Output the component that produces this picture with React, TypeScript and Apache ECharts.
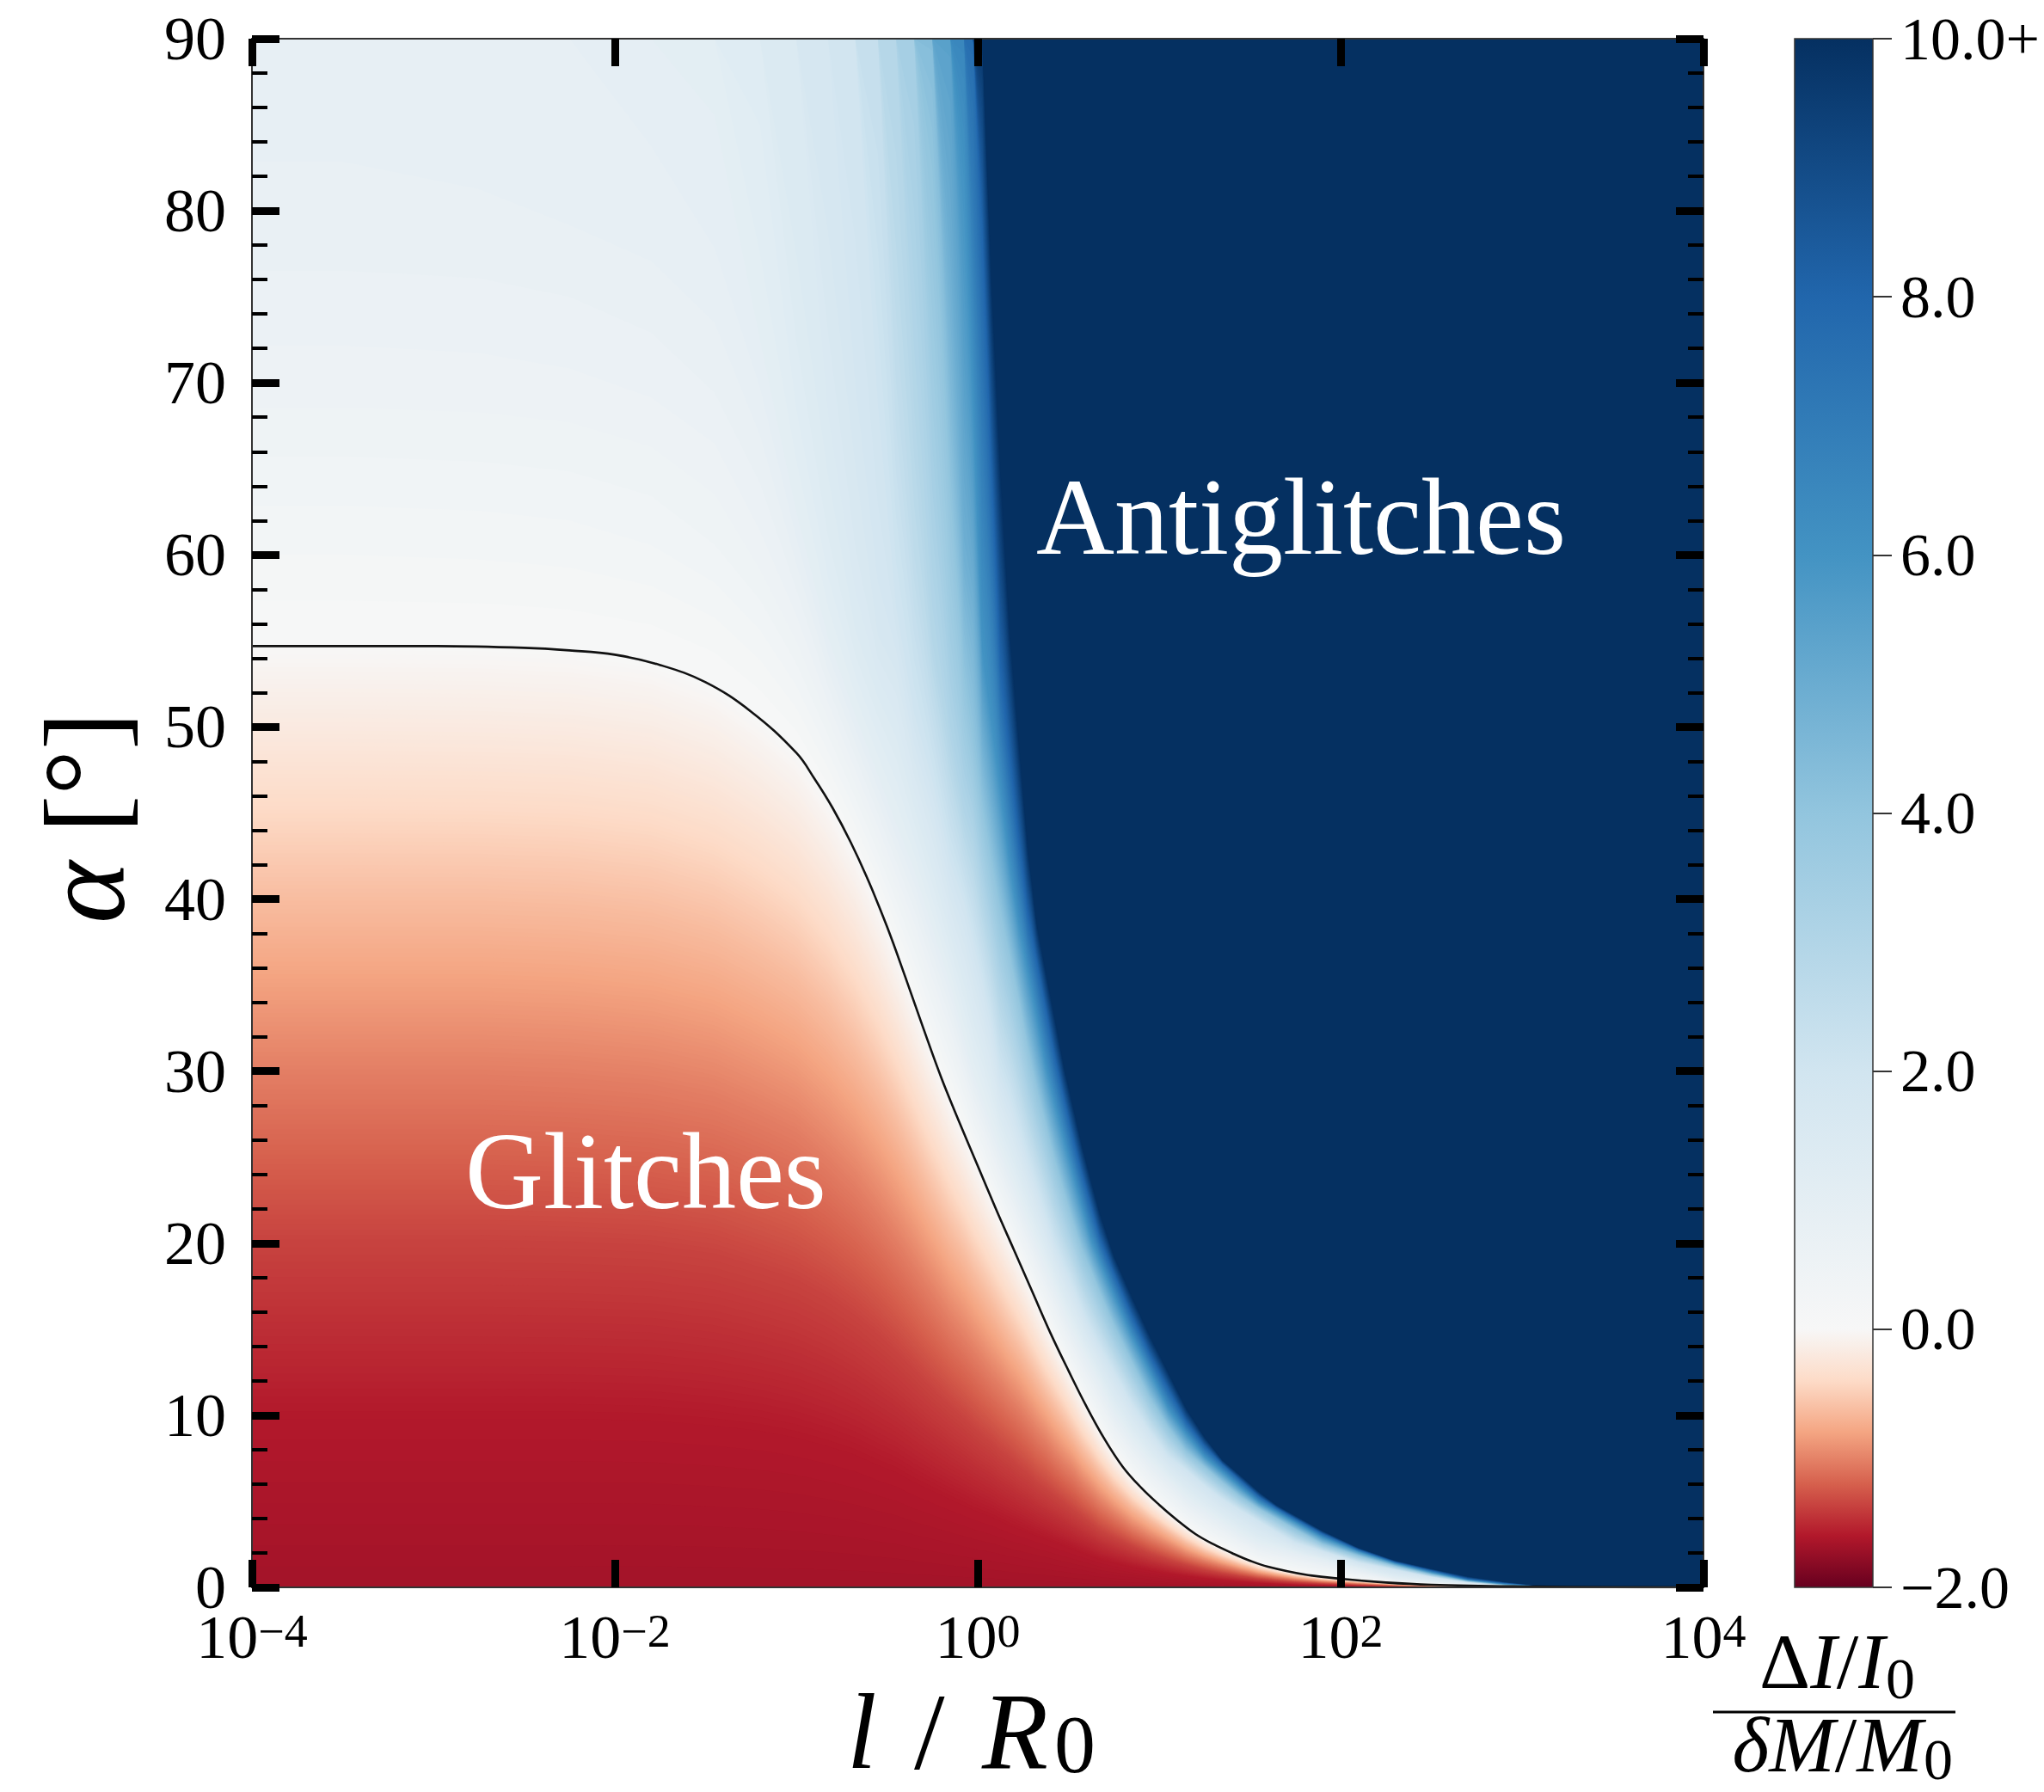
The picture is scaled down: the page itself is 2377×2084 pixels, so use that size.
import React, { useEffect, useRef } from 'react';
import * as echarts from 'echarts';

const FONT = 'Liberation Serif';

// axis ranges / ticks
const X_MIN = -4; // log10(l / R0)
const X_MAX = 4;
const X_STEP = 2;
const ALPHA_MIN = 0;
const ALPHA_MAX = 90;
const ALPHA_STEP = 10;
const CBAR_MIN = -2;
const CBAR_MAX = 10;
const CBAR_STEP = 2;

// RdBu colormap, two-slope normalisation centred at 0
const RDBU = ['#67001f', '#b2182b', '#d6604d', '#f4a582', '#fddbc7', '#f7f7f7', '#d1e5f0', '#92c5de', '#4393c3', '#2166ac', '#053061'];
const VCENTER = 0;
const CBAR_LEVELS = [10, 8, 6, 4, 2, 0, -0.4, -0.8, -1.2, -1.6, -2];

// field, read column by column: x = log10(l/R0) of each column, and for it
// the list of [alpha (deg), (dI/I0)/(dM/M0)] read from bottom to top
const STRIP_X = [-3.5, -2.75, -2.25, -1.8, -1.45, -1.2, -1.0, -0.825, -0.675, -0.55, -0.45, -0.35, -0.25, -0.15, -0.075, -0.025, 0.025, 0.075, 0.125, 0.175, 0.225, 0.275, 0.325, 0.375, 0.425, 0.475, 0.525, 0.575, 0.625, 0.675, 0.75, 0.85, 0.95, 1.05, 1.15, 1.25, 1.35, 1.45, 1.55, 1.65, 1.75, 1.9, 2.1, 2.3, 2.5, 2.7, 2.9, 3.1, 3.6];

const STRIP_PROFILES: number[][][] = [
  [[0,-1.68],[9.8,-1.6],[20.2,-1.36],[30.1,-1.02],[39.9,-0.63],[49.8,-0.2],[54.7,0],[60,0.2],[70,0.55],[80,0.78],[90,0.85]],
  [[0,-1.68],[9.8,-1.6],[20.2,-1.36],[30.1,-1.02],[39.9,-0.63],[49.7,-0.2],[54.65,0],[60,0.21],[70,0.56],[80,0.79],[90,0.87]],
  [[0,-1.68],[9.8,-1.6],[20.1,-1.36],[29.9,-1.02],[39.7,-0.63],[49.5,-0.2],[54.4,0],[60,0.23],[70,0.58],[80,0.82],[90,0.9]],
  [[0,-1.68],[9.7,-1.6],[19.9,-1.36],[29.5,-1.02],[39.2,-0.63],[48.9,-0.2],[53.7,0],[60,0.28],[70,0.63],[80,0.87],[90,0.95]],
  [[0,-1.68],[9.4,-1.6],[19.4,-1.36],[28.8,-1.02],[38.2,-0.63],[47.6,-0.2],[52.3,0],[60,0.38],[70,0.72],[80,0.95],[90,1.04]],
  [[0,-1.68],[9.1,-1.6],[18.6,-1.36],[27.7,-1.02],[36.8,-0.63],[45.9,-0.2],[50.4,0],[60,0.55],[72.5,1],[80,1.15],[90,1.25]],
  [[0,-1.68],[8.7,-1.6],[17.9,-1.36],[26.7,-1.02],[35.4,-0.63],[44.1,-0.2],[48.5,0],[55,0.5],[62.5,1],[70,1.25],[80,1.45],[90,1.5]],
  [[0,-1.68],[8.2,-1.6],[16.9,-1.36],[25.1,-1.02],[33.4,-0.63],[41.6,-0.2],[45.7,0],[50,0.45],[55.2,1],[60,1.27],[70,1.55],[80,1.72],[90,1.8]],
  [[0,-1.68],[7.7,-1.6],[15.8,-1.36],[23.5,-1.02],[31.2,-0.63],[38.9,-0.2],[42.7,0],[50.7,1],[55,1.37],[60,1.59],[70,1.8],[80,1.92],[90,1.98]],
  [[0,-1.68],[7.1,-1.6],[14.7,-1.36],[21.8,-1.02],[29,-0.63],[36.1,-0.2],[39.7,0],[47.2,1],[55,1.69],[60,1.85],[68.75,2],[80,2.25],[90,2.4]],
  [[0,-1.68],[6.7,-1.6],[13.7,-1.36],[20.3,-1.02],[27,-0.63],[33.6,-0.2],[36.95,0],[44.4,1],[57,2],[70,2.5],[80,2.75],[90,2.9]],
  [[0,-1.68],[6.1,-1.6],[12.6,-1.36],[18.7,-1.02],[24.8,-0.63],[30.9,-0.2],[34,0],[41.7,1],[50.8,2],[60,2.6],[70,2.95],[80,3.2],[90,3.4]],
  [[0,-1.68],[5.6,-1.6],[11.5,-1.36],[17.1,-1.02],[22.6,-0.63],[28.2,-0.2],[31,0],[38.3,1],[46.9,2],[55,2.9],[60,3.15],[70,3.55],[82.5,4],[90,4.33]],
  [[0,-1.68],[5.1,-1.6],[10.5,-1.36],[15.5,-1.02],[20.6,-0.63],[25.7,-0.2],[28.25,0],[35,1],[42.1,2],[50,3.1],[55,3.5],[63.3,4],[70,4.5],[80,5.06],[90,5.44]],
  [[0,-1.68],[4.75,-1.6],[9.8,-1.36],[14.5,-1.02],[19.3,-0.63],[24,-0.2],[26.4,0],[31.9,1],[39.8,2],[45,3],[52.9,4],[60,4.85],[70,5.44],[81.7,6],[90,6.56]],
  [[0,-1.68],[4.5,-1.6],[9.3,-1.36],[13.8,-1.02],[18.3,-0.63],[22.8,-0.2],[25.1,0],[29.9,1],[37.5,2],[49.3,4],[68.3,6],[80,7],[90,7.67]],
  [[0,-1.68],[4.3,-1.6],[8.8,-1.36],[13.1,-1.02],[17.4,-0.63],[21.7,-0.2],[23.9,0],[28.4,1],[35.2,2],[45.3,4],[54.6,6],[78.75,8],[90,9.75]],
  [[0,-1.68],[4.1,-1.6],[8.4,-1.36],[12.4,-1.02],[16.5,-0.63],[20.6,-0.2],[22.6,0],[26.9,1],[32.75,2],[42.2,4],[50.4,6],[65,8],[76.25,10],[90,12]],
  [[0,-1.68],[3.85,-1.6],[7.9,-1.36],[11.8,-1.02],[15.6,-0.63],[19.5,-0.2],[21.4,0],[25.4,1],[29.8,2],[39.25,4],[46.25,6],[53.5,8],[65,10],[90,12]],
  [[0,-1.68],[3.6,-1.6],[7.5,-1.36],[11.1,-1.02],[14.7,-0.63],[18.4,-0.2],[20.2,0],[24,1],[28.4,2],[36.75,4],[42.1,6],[48.5,8],[55.8,10],[90,12]],
  [[0,-1.68],[3.4,-1.6],[7,-1.36],[10.5,-1.02],[13.9,-0.63],[17.3,-0.2],[19,0],[22.6,1],[26.6,2],[34.2,4],[38.6,6],[43.5,8],[49.4,10],[90,12]],
  [[0,-1.68],[3.2,-1.6],[6.6,-1.36],[9.8,-1.02],[13,-0.63],[16.2,-0.2],[17.8,0],[21.25,1],[24.8,2],[31.4,4],[35.8,6],[39.2,8],[43.1,10],[90,12]],
  [[0,-1.68],[3,-1.6],[6.1,-1.36],[9.1,-1.02],[12.1,-0.63],[15.1,-0.2],[16.6,0],[19.9,1],[23.2,2],[29,4],[33.1,6],[36.4,8],[38.6,10],[90,12]],
  [[0,-1.68],[2.8,-1.6],[5.7,-1.36],[8.5,-1.02],[11.2,-0.63],[14,-0.2],[15.4,0],[18.6,1],[21.5,2],[26.9,4],[30.3,6],[33.6,8],[35.8,10],[90,12]],
  [[0,-1.68],[2.6,-1.6],[5.3,-1.36],[7.8,-1.02],[10.4,-0.63],[13,-0.2],[14.25,0],[17.4,1],[19.9,2],[24.8,4],[28.1,6],[30.8,8],[33.1,10],[90,12]],
  [[0,-1.68],[2.4,-1.6],[4.9,-1.36],[7.2,-1.02],[9.6,-0.63],[12,-0.2],[13.15,0],[16.1,1],[18.6,2],[23,4],[26,6],[28.4,8],[30.3,10],[90,12]],
  [[0,-1.68],[2.2,-1.6],[4.5,-1.36],[6.7,-1.02],[8.8,-0.63],[11,-0.2],[12.1,0],[14.9,1],[17.4,2],[21.25,4],[24,6],[26.1,8],[28,10],[90,12]],
  [[0,-1.68],[2,-1.6],[4.1,-1.36],[6.05,-1.02],[8,-0.63],[10,-0.2],[11,0],[13.85,1],[16.1,2],[19.6,4],[22.1,6],[24,8],[25.7,10],[90,12]],
  [[0,-1.68],[1.8,-1.6],[3.7,-1.36],[5.5,-1.02],[7.3,-0.63],[9.1,-0.2],[10,0],[12.8,1],[14.9,2],[18.4,4],[20.2,6],[22.1,8],[23.65,10],[90,12]],
  [[0,-1.68],[1.6,-1.6],[3.3,-1.36],[4.95,-1.02],[6.6,-0.63],[8.2,-0.2],[9,0],[11.8,1],[13.9,2],[17.1,4],[18.9,6],[20.2,8],[21.7,10],[90,12]],
  [[0,-1.68],[1.4,-1.6],[2.9,-1.36],[4.3,-1.02],[5.7,-0.63],[7.05,-0.2],[7.75,0],[10.2,1],[12.5,2],[15.25,4],[17,6],[18.25,8],[19.3,10],[90,12]],
  [[0,-1.68],[1.15,-1.6],[2.4,-1.36],[3.5,-1.02],[4.7,-0.63],[5.8,-0.2],[6.4,0],[8.6,1],[10.6,2],[13.1,4],[14.6,6],[15.75,8],[16.9,10],[90,12]],
  [[0,-1.68],[0.95,-1.6],[1.96,-1.36],[2.9,-1.02],[3.9,-0.63],[4.8,-0.2],[5.3,0],[7.3,1],[9,2],[11,4],[12.5,6],[13.5,8],[14.6,10],[90,12]],
  [[0,-1.68],[0.78,-1.6],[1.6,-1.36],[2.4,-1.02],[3.2,-0.63],[3.96,-0.2],[4.35,0],[6.25,1],[7.6,2],[9.3,4],[10.4,6],[11.5,8],[12.5,10],[90,12]],
  [[0,-1.68],[0.63,-1.6],[1.3,-1.36],[1.9,-1.02],[2.55,-0.63],[3.2,-0.2],[3.5,0],[5.2,1],[6.8,2],[7.9,4],[8.9,6],[9.6,8],[10.4,10],[90,12]],
  [[0,-1.68],[0.5,-1.6],[1.04,-1.36],[1.54,-1.02],[2.04,-0.63],[2.55,-0.2],[2.8,0],[4.45,1],[5.9,2],[7,4],[7.6,6],[8.2,8],[8.75,10],[90,12]],
  [[0,-1.68],[0.4,-1.6],[0.83,-1.36],[1.24,-1.02],[1.64,-0.63],[2.05,-0.2],[2.25,0],[3.77,1],[5.1,2],[6.1,4],[6.7,6],[7.15,8],[7.4,10],[90,12]],
  [[0,-1.68],[0.32,-1.6],[0.66,-1.36],[0.98,-1.02],[1.3,-0.63],[1.62,-0.2],[1.78,0],[3.08,1],[4.45,2],[5.26,4],[5.8,6],[6.2,8],[6.5,10],[90,12]],
  [[0,-1.68],[0.25,-1.6],[0.51,-1.36],[0.76,-1.02],[1,-0.63],[1.25,-0.2],[1.38,0],[2.52,1],[3.83,2],[4.58,4],[4.94,6],[5.28,8],[5.56,10],[90,12]],
  [[0,-1.68],[0.2,-1.6],[0.4,-1.36],[0.6,-1.02],[0.8,-0.63],[0.99,-0.2],[1.09,0],[2.25,1],[3.2,2],[3.98,4],[4.36,6],[4.6,8],[4.77,10],[90,12]],
  [[0,-1.68],[0.15,-1.6],[0.32,-1.36],[0.47,-1.02],[0.63,-0.63],[0.78,-0.2],[0.86,0],[1.98,1],[2.6,2],[3.38,4],[3.77,6],[4,8],[4.18,10],[90,12]],
  [[0,-1.68],[0.11,-1.6],[0.23,-1.36],[0.34,-1.02],[0.45,-0.63],[0.56,-0.2],[0.62,0],[1.58,1],[2.1,2],[2.53,4],[2.9,6],[3.13,8],[3.3,10],[90,12]],
  [[0,-1.68],[0.07,-1.6],[0.15,-1.36],[0.23,-1.02],[0.3,-0.63],[0.37,-0.2],[0.41,0],[1.04,1],[1.46,2],[1.84,4],[2.07,6],[2.2,8],[2.3,10],[90,12]],
  [[0,-1.68],[0.09,-1.36],[0.18,-0.63],[0.25,0],[0.5,1],[1.03,2],[1.25,4],[1.4,6],[1.48,8],[1.57,10],[90,12]],
  [[0,-1.6],[0.08,-1.02],[0.15,0],[0.32,1],[0.61,2],[0.75,4],[0.88,6],[0.99,8],[1.09,10],[90,12]],
  [[0,-1.5],[0.11,0],[0.2,1],[0.3,2],[0.37,4],[0.43,6],[0.5,8],[0.64,10],[90,12]],
  [[0,-1.1],[0.07,0],[0.1,1],[0.12,2],[0.15,4],[0.2,6],[0.26,8],[0.33,10],[90,12]],
  [[0,-0.5],[0.04,0],[0.06,2],[0.08,6],[0.1,10],[90,12]],
  [[0,12],[90,12]],
];

// zero contour (black line): [log10(l/R0), alpha]
const CONTOUR: number[][] = [
  [-4, 54.7], [-3.5, 54.7], [-3, 54.7], [-2.5, 54.6], [-2.25, 54.45], [-2, 54.2], [-1.75, 53.6], [-1.5, 52.6],
  [-1.25, 50.9], [-1, 48.5], [-0.9, 47.0], [-0.8, 45.3], [-0.7, 43.3], [-0.6, 41.0], [-0.5, 38.4], [-0.4, 35.5],
  [-0.3, 32.5], [-0.2, 29.6], [-0.1, 27.0], [0, 24.5], [0.1, 22.0], [0.2, 19.6], [0.3, 17.2], [0.4, 14.8],
  [0.5, 12.6], [0.6, 10.5], [0.7, 8.6], [0.8, 7.0], [0.9, 5.8], [1.0, 4.8], [1.1, 3.9], [1.2, 3.1], [1.3, 2.5],
  [1.4, 2.0], [1.5, 1.55], [1.6, 1.2], [1.8, 0.75], [2.0, 0.5], [2.25, 0.28], [2.5, 0.15], [3.0, 0.05], [3.5, 0.01], [4, 0],
];

// filled-contour rendering levels (colour resolution of the map)
const SHADE_LEVELS: number[] = (() => {
  const out: number[] = [];
  for (let k = 0; k <= 172; k++) out.push(Math.round((-1.72 + 0.01 * k) * 1000) / 1000);
  for (let k = 1; k <= 100; k++) out.push(Math.round(0.1 * k * 1000) / 1000);
  return out;
})();

function hexToRgb(h: string): number[] {
  const n = parseInt(h.slice(1), 16);
  return [(n >> 16) & 255, (n >> 8) & 255, n & 255];
}

function cmap(v: number): string {
  let t = v < VCENTER
    ? 0.5 * (v - CBAR_MIN) / (VCENTER - CBAR_MIN)
    : 0.5 + 0.5 * (v - VCENTER) / (CBAR_MAX - VCENTER);
  t = Math.max(0, Math.min(1, t));
  const f = t * (RDBU.length - 1);
  const i = Math.min(RDBU.length - 2, Math.floor(f));
  const u = f - i;
  const a = hexToRgb(RDBU[i]);
  const b = hexToRgb(RDBU[i + 1]);
  const c = a.map((av, k) => Math.round(av + (b[k] - av) * u));
  return `rgb(${c[0]},${c[1]},${c[2]})`;
}

// height (alpha) at which a column profile reaches level L
function alphaAt(prof: number[][], L: number): number {
  if (L <= prof[0][1]) return prof[0][0];
  for (let j = 0; j < prof.length - 1; j++) {
    const a0 = prof[j][0], v0 = prof[j][1];
    const a1 = prof[j + 1][0], v1 = prof[j + 1][1];
    if (L <= v1) {
      if (v1 === v0) return a0;
      return a0 + ((L - v0) / (v1 - v0)) * (a1 - a0);
    }
  }
  return ALPHA_MAX;
}

function expLabel(v: number): string {
  const e = v < 0 ? '\u2212' + Math.abs(v) : String(v);
  return `{b|10}{s|${e}}`;
}

function cbarLabel(v: number): string {
  if (v === CBAR_MAX) return v.toFixed(1) + '+';
  if (v < 0) return '\u2212' + Math.abs(v).toFixed(1);
  return v.toFixed(1);
}

function txt(x: number, y: number, text: string, fontSize: number, opts: any = {}) {
  return {
    type: 'text', x, y, z: 20, silent: true, rotation: opts.rotation || 0,
    style: {
      text, fill: opts.fill || '#000', fontSize, fontFamily: FONT,
      fontStyle: opts.italic ? 'italic' : 'normal',
      lineHeight: opts.lineHeight || Math.round(fontSize * 0.9),
      align: opts.align || 'left', textAlign: opts.align || 'left',
      verticalAlign: 'middle', textVerticalAlign: 'middle',
      rich: opts.rich,
    },
  };
}

export default function App() {
  const ref = useRef<HTMLDivElement>(null);

  useEffect(() => {
    if (!ref.current) return;
    const chart = echarts.init(ref.current, undefined, { renderer: 'svg', width: 2377, height: 2084 });

    const nCols = STRIP_X.length;
    const levelData = SHADE_LEVELS.map((L, k) => [X_MIN, ALPHA_MIN, k]);

    const tickCommon = {
      axisLine: { show: true, onZero: false, lineStyle: { color: '#333', width: 2 } },
      axisTick: { show: true, inside: true, length: 32, lineStyle: { color: '#000', width: 9 } },
      splitLine: { show: false },
      z: 5,
    };

    const italicRich = (fs: number, lh: number) => ({
      i: { fontSize: fs, fontFamily: FONT, fontStyle: 'italic', lineHeight: lh, fill: '#000' },
    });

    const option: any = {
      animation: false,
      backgroundColor: '#ffffff',
      textStyle: { fontFamily: FONT },
      grid: [
        { left: 293, top: 45, width: 1688, height: 1801, outerBoundsMode: 'none', containLabel: false },
        { left: 2087, top: 45, width: 91, height: 1801, outerBoundsMode: 'none', containLabel: false },
      ],
      xAxis: [
        {
          type: 'value', gridIndex: 0, position: 'bottom', min: X_MIN, max: X_MAX, interval: X_STEP,
          ...tickCommon,
          axisLabel: {
            show: true, margin: 24, formatter: expLabel,
            rich: {
              b: { fontSize: 72, fontFamily: FONT, color: '#000', lineHeight: 70, verticalAlign: 'bottom' },
              s: { fontSize: 54, fontFamily: FONT, color: '#000', lineHeight: 32, verticalAlign: 'top' },
            },
          },
        },
        {
          type: 'value', gridIndex: 0, position: 'top', min: X_MIN, max: X_MAX, interval: X_STEP,
          ...tickCommon,
          axisLabel: { show: false },
        },
        { type: 'value', gridIndex: 1, min: 0, max: 1, show: false },
      ],
      yAxis: [
        {
          type: 'value', gridIndex: 0, position: 'left', min: ALPHA_MIN, max: ALPHA_MAX, interval: ALPHA_STEP,
          ...tickCommon,
          minorTick: { show: true, splitNumber: 5, length: 18, lineStyle: { color: '#000', width: 4 } },
          minorSplitLine: { show: false },
          axisLabel: { show: true, margin: 30, fontSize: 72, lineHeight: 40, fontFamily: FONT, color: '#000' },
        },
        {
          type: 'value', gridIndex: 0, position: 'right', min: ALPHA_MIN, max: ALPHA_MAX, interval: ALPHA_STEP,
          ...tickCommon,
          minorTick: { show: true, splitNumber: 5, length: 18, lineStyle: { color: '#000', width: 4 } },
          minorSplitLine: { show: false },
          axisLabel: { show: false },
        },
        {
          type: 'value', gridIndex: 1, position: 'right', min: CBAR_MIN, max: CBAR_MAX, interval: CBAR_STEP,
          axisLine: { show: false, onZero: false },
          axisTick: { show: true, inside: false, length: 22, lineStyle: { color: '#333', width: 2 } },
          splitLine: { show: false },
          axisLabel: { show: true, margin: 32, fontSize: 70, lineHeight: 56, fontFamily: FONT, color: '#000', formatter: cbarLabel },
          z: 5,
        },
      ],
      series: [
        {
          // filled contours of the field: region where value >= level, painted in order
          type: 'custom',
          name: 'field',
          xAxisIndex: 0,
          yAxisIndex: 0,
          clip: true,
          silent: true,
          z: 1,
          encode: { x: 0, y: 1 },
          data: levelData,
          renderItem: (params: any, api: any) => {
            const k = api.value(2);
            const L = SHADE_LEVELS[k];
            const next = k + 1 < SHADE_LEVELS.length ? SHADE_LEVELS[k + 1] : L + 1;
            const color = cmap((L + next) / 2);
            const alphas = STRIP_PROFILES.map((p) => alphaAt(p, L));
            if (alphas.every((a) => a >= ALPHA_MAX)) return null;
            const pts: number[][] = [];
            pts.push(api.coord([X_MIN, alphas[0]]));
            for (let i = 0; i < nCols; i++) pts.push(api.coord([STRIP_X[i], alphas[i]]));
            pts.push(api.coord([X_MAX, alphas[nCols - 1]]));
            pts.push(api.coord([X_MAX, ALPHA_MAX]));
            pts.push(api.coord([X_MIN, ALPHA_MAX]));
            return {
              type: 'polygon',
              z2: k,
              shape: { points: pts },
              style: { fill: color, stroke: null },
            };
          },
        },
        {
          type: 'line',
          name: 'zero contour',
          xAxisIndex: 0,
          yAxisIndex: 0,
          data: CONTOUR,
          showSymbol: false,
          symbol: 'none',
          smooth: 0.4,
          clip: true,
          silent: true,
          z: 3,
          lineStyle: { color: '#111', width: 2.6, join: 'round' },
        },
        {
          type: 'custom',
          name: 'colorbar',
          xAxisIndex: 2,
          yAxisIndex: 2,
          silent: true,
          z: 1,
          encode: { x: [0, 1], y: [2, 3] },
          data: [[0, 1, CBAR_MIN, CBAR_MAX]],
          renderItem: (params: any, api: any) => {
            const tl = api.coord([api.value(0), api.value(3)]);
            const br = api.coord([api.value(1), api.value(2)]);
            const span = CBAR_MAX - CBAR_MIN;
            const stops = CBAR_LEVELS.map((v) => ({ offset: (CBAR_MAX - v) / span, color: cmap(v) }));
            return {
              type: 'rect',
              shape: { x: tl[0], y: tl[1], width: br[0] - tl[0], height: br[1] - tl[1] },
              style: { fill: new echarts.graphic.LinearGradient(0, 0, 0, 1, stops), stroke: '#333', lineWidth: 1.5 },
            };
          },
        },
      ],
      graphic: [
        txt(1205, 601, 'Antiglitches', 126, { fill: '#ffffff', lineHeight: 120 }),
        txt(541, 1362, 'Glitches', 126, { fill: '#ffffff', lineHeight: 120 }),
        // x-axis title  l / R0
        txt(985, 2014, 'l', 124, { italic: true, lineHeight: 110 }),
        txt(1063, 2014, '/', 128, { lineHeight: 110 }),
        txt(1142, 2014, 'R', 126, { italic: true, lineHeight: 110 }),
        txt(1226, 2028, '0', 96, { lineHeight: 86 }),
        // y-axis title  alpha [deg]
        txt(97, 951, '{i|\u03b1} [\u00b0]', 132, { align: 'center', rotation: Math.PI / 2, lineHeight: 120, rich: italicRich(138, 120) }),
        // colour-bar title: (dI/I0) / (dM/M0)
        txt(2192, 1932, '\u0394{i|I}/{i|I}', 92, { align: 'right', lineHeight: 80, rich: italicRich(92, 80) }),
        txt(2193, 1952, '0', 68, { lineHeight: 46 }),
        {
          type: 'line', z: 20, silent: true,
          shape: { x1: 1992, y1: 1991, x2: 2274, y2: 1991 },
          style: { stroke: '#000', lineWidth: 3 },
        },
        txt(2236, 2029, '{i|\u03b4M}/{i|M}', 92, { align: 'right', lineHeight: 76, rich: italicRich(92, 76) }),
        txt(2237, 2046, '0', 68, { lineHeight: 46 }),
      ],
    };

    chart.setOption(option);
    return () => chart.dispose();
  }, []);

  return (
    <div
      ref={ref}
      style={{ position: 'fixed', left: 0, top: 0, width: 2377, height: 2084, background: '#ffffff' }}
    />
  );
}
